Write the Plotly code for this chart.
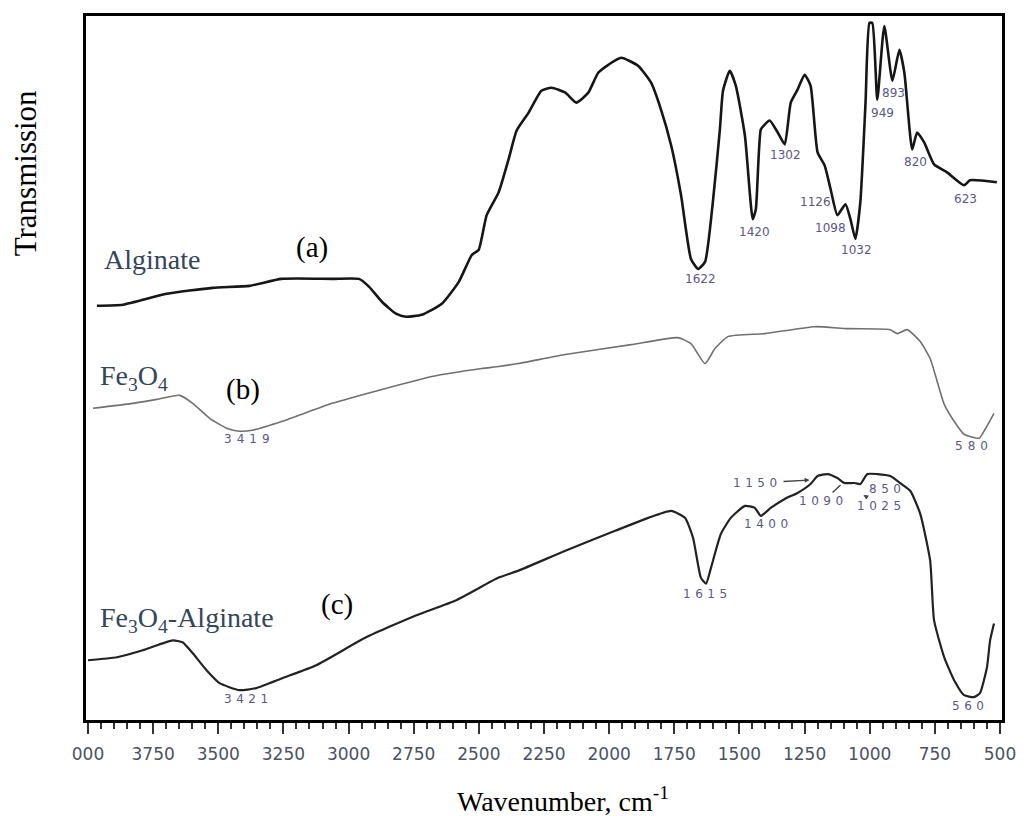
import plotly.graph_objects as go

# ---------------- data ----------------
# (a) Alginate
alg_wn = [3966, 3866, 3698, 3522, 3380, 3258, 3063, 2960, 2921, 2872,
          2818, 2780, 2719, 2642, 2577, 2527, 2501, 2470, 2424, 2386,
          2355, 2309, 2260, 2221, 2168, 2126, 2080, 2042, 2003, 1954,
          1889, 1839, 1801, 1762, 1724, 1686, 1659, 1632, 1602, 1575,
          1563, 1537, 1514, 1479, 1449, 1437, 1418, 1403, 1384, 1353,
          1326, 1303, 1277, 1250, 1227, 1200, 1173, 1150, 1124, 1093,
          1074, 1055, 1036, 1016, 1001, 990, 971, 944, 913, 886,
          867, 837, 818, 791, 753, 703, 638, 615, 512]
alg_t = [416, 417, 428, 434, 436, 443, 443, 443, 435, 420,
         408, 405, 407, 418, 440, 467, 472, 507, 530, 563,
         592, 610, 632, 635, 630, 620, 630, 650, 658, 665,
         657, 640, 613, 577, 527, 463, 453, 460, 520, 593,
         632, 652, 637, 587, 503, 513, 593, 598, 602, 590,
         578, 620, 633, 648, 637, 570, 557, 533, 507, 518,
         503, 483, 520, 620, 700, 700, 623, 697, 642, 673,
         650, 573, 590, 580, 558, 550, 537, 542, 540]

# (b) Fe3O4
fe_wn = [3981, 3828, 3736, 3648, 3598, 3533, 3468, 3419, 3369, 3254,
         3063, 2872, 2680, 2489, 2424, 2348, 2168, 1915, 1736, 1686,
         1632, 1594, 1544, 1403, 1211, 1085, 921, 894, 856, 806,
         768, 741, 714, 676, 638, 580, 557, 523]
fe_t = [313, 318, 322, 326, 318, 303, 293, 290, 291, 300,
        318, 332, 345, 353, 355, 358, 367, 377, 384, 378,
        358, 373, 385, 388, 395, 393, 392, 388, 392, 380,
        363, 340, 317, 300, 287, 283, 292, 308]

# (c) Fe3O4-Alginate
fa_wn = [4000, 3889, 3790, 3675, 3637, 3598, 3545, 3495, 3419, 3354,
         3254, 3124, 2933, 2742, 2589, 2424, 2348, 2168, 1977, 1850,
         1762, 1709, 1678, 1648, 1628, 1609, 1571, 1533, 1479, 1441,
         1418, 1380, 1326, 1277, 1227, 1200, 1162, 1124, 1097, 1059,
         1036, 1009, 971, 921, 883, 844, 806, 768, 753, 714,
         676, 638, 600, 577, 550, 538, 523]
fa_t = [60, 63, 70, 80, 78, 67, 50, 37, 30, 32,
        42, 55, 83, 105, 120, 143, 150, 170, 190, 203,
        210, 203, 183, 143, 137, 153, 187, 203, 215, 213,
        205, 213, 222, 228, 237, 245, 247, 243, 238, 238,
        237, 247, 247, 245, 238, 230, 207, 160, 100, 63,
        40, 25, 23, 27, 53, 80, 97]

tick_vals = [4000, 3750, 3500, 3250, 3000, 2750, 2500, 2250, 2000,
             1750, 1500, 1250, 1000, 750, 500]
tick_text = ["000", "3750", "3500", "3250", "3000", "2750", "2500", "2250",
             "2000", "1750", "1500", "1250", "1000", "750", "500"]

# peak labels: text, wavenumber position, vertical position
alg_peaks = ["1622", "1420", "1302", "1126", "1098", "1032", "949", "893", "820", "623"]
alg_peak_x = [1651, 1441, 1322, 1208, 1150, 1051, 951, 909, 825, 634]
alg_peak_y = [443, 490, 567, 520, 494, 472, 610, 630, 560, 523]

fe_peaks = ["3419", "580"]
fe_peak_x = [3380, 600]
fe_peak_y = [282, 275]

fa_peaks = ["3421", "1615", "1400", "850", "560"]
fa_peak_x = [3384, 1621, 1388, 932, 615]
fa_peak_y = [21, 127, 197, 232, 14]

# (c) labels that carry a small pointer: text, pointer tip (wavenumber, level), label offset in px
fa_ptr_peaks = ["1150", "1090", "1025"]
fa_ptr_x = [1231, 1112, 1024]
fa_ptr_y = [241, 236, 226]
fa_ptr_dx = [-52, -17, 18]
fa_ptr_dy = [3, 16, 11]
fa_ptr_head = [2, 0, 2]

# ---------------- figure ----------------
fig = go.Figure()
fig.add_trace(go.Scatter(x=alg_wn, y=alg_t, mode="lines", name="Alginate",
                         line=dict(color="#161616", width=2.6, shape="spline", smoothing=0.5)))
fig.add_trace(go.Scatter(x=fe_wn, y=fe_t, mode="lines", name="Fe3O4",
                         line=dict(color="#707070", width=1.6, shape="spline", smoothing=0.5)))
fig.add_trace(go.Scatter(x=fa_wn, y=fa_t, mode="lines", name="Fe3O4-Alginate",
                         line=dict(color="#222222", width=2.2, shape="spline", smoothing=0.5)))

ann = []
lab_color = "#5a5888"


def spaced(t, ls, size):
    return '<span style="letter-spacing:%spx;font-size:%spx">%s</span>' % (ls, size, t)


for t, x, y in zip(alg_peaks, alg_peak_x, alg_peak_y):
    ann.append(dict(x=x, y=y, xref="x", yref="y", text=t, showarrow=False,
                    font=dict(family="DejaVu Sans", size=12, color=lab_color)))
for t, x, y in zip(fe_peaks, fe_peak_x, fe_peak_y):
    ann.append(dict(x=x, y=y, xref="x", yref="y", text=spaced(t, 5, 12), showarrow=False,
                    font=dict(family="DejaVu Sans", size=12, color=lab_color)))
for t, x, y in zip(fa_peaks, fa_peak_x, fa_peak_y):
    ann.append(dict(x=x, y=y, xref="x", yref="y", text=spaced(t, 4.5, 12), showarrow=False,
                    font=dict(family="DejaVu Sans", size=12, color=lab_color)))
for t, x, y, dx, dy, hd in zip(fa_ptr_peaks, fa_ptr_x, fa_ptr_y, fa_ptr_dx, fa_ptr_dy, fa_ptr_head):
    ann.append(dict(x=x, y=y, xref="x", yref="y", text=spaced(t, 4.5, 12), showarrow=True,
                    ax=dx, ay=dy, arrowhead=hd, arrowsize=0.7, arrowwidth=1.4,
                    arrowcolor="#444", standoff=0,
                    font=dict(family="DejaVu Sans", size=12, color=lab_color)))

serif = "Liberation Serif"
name_color = "#34465a"
ann += [
    dict(x=3946, y=462, xref="x", yref="y", text="Alginate", showarrow=False, xanchor="left",
         font=dict(family=serif, size=28, color=name_color)),
    dict(x=3962, y=344, xref="x", yref="y", text="Fe<sub>3</sub>O<sub>4</sub>", showarrow=False,
         xanchor="left", font=dict(family=serif, size=28, color=name_color)),
    dict(x=3962, y=101, xref="x", yref="y", text="Fe<sub>3</sub>O<sub>4</sub>-Alginate",
         showarrow=False, xanchor="left", font=dict(family=serif, size=28, color=name_color)),
    dict(x=3139, y=475, xref="x", yref="y", text="(a)", showarrow=False,
         font=dict(family=serif, size=29, color="black")),
    dict(x=3407, y=332, xref="x", yref="y", text="(b)", showarrow=False,
         font=dict(family=serif, size=29, color="black")),
    dict(x=3046, y=116, xref="x", yref="y", text="(c)", showarrow=False,
         font=dict(family=serif, size=29, color="black")),
    dict(x=-0.0666, y=0.7765, xref="paper", yref="paper", text="Transmission", textangle=-90,
         showarrow=False, xanchor="center", yanchor="middle",
         font=dict(family=serif, size=31, color="black")),
    dict(x=0.5207, y=-0.113, xref="paper", yref="paper", text="Wavenumber, cm<sup>-1</sup>",
         showarrow=False, xanchor="center", yanchor="middle",
         font=dict(family=serif, size=28, color="black")),
]

# the page body has an 8px margin, so the figure is 8px smaller than the window
fig.update_layout(width=1021, height=808, margin=dict(l=78, r=27, t=5, b=96),
                  plot_bgcolor="white", paper_bgcolor="white", showlegend=False,
                  annotations=ann)
fig.update_xaxes(range=[4007.7, 492.3], tickmode="array", tickvals=tick_vals, ticktext=tick_text,
                 ticks="outside", ticklen=11, tickwidth=2, tickcolor="#333",
                 showline=True, linewidth=3, linecolor="black", mirror=True,
                 showgrid=False, zeroline=False, ticklabelstandoff=6,
                 tickfont=dict(family="DejaVu Sans", size=17, color="#4a5263"),
                 minor=dict(tickmode="linear", tick0=500, dtick=50, ticks="outside",
                            ticklen=6, tickwidth=2, tickcolor="#333", showgrid=False))
fig.update_yaxes(range=[0, 707], showticklabels=False, ticks="", showline=True, linewidth=3,
                 linecolor="black", mirror=True, showgrid=False, zeroline=False)

fig.write_html("out.html")
